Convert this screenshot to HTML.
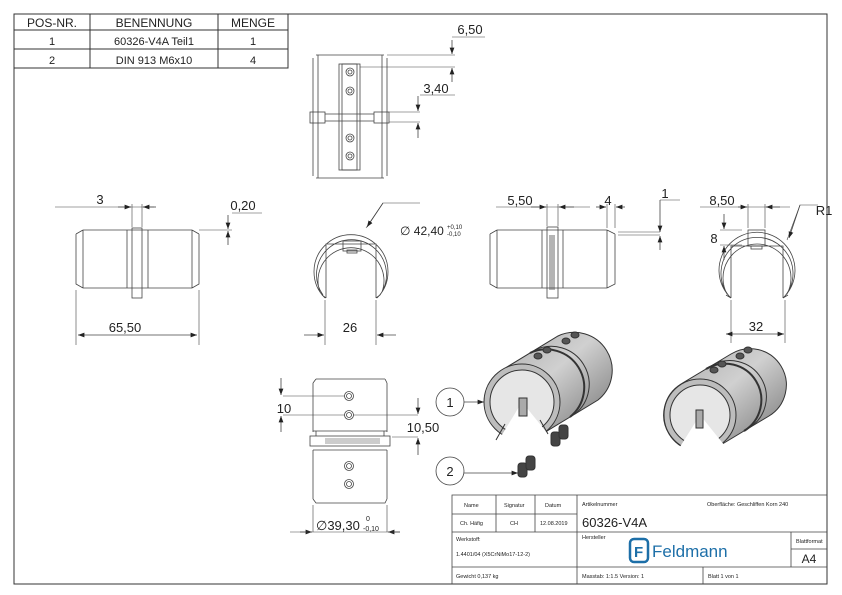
<!DOCTYPE html>
<html><head><meta charset="utf-8"><style>
html,body{margin:0;padding:0;background:#fff}
svg{display:block}
text{font-family:"Liberation Sans",sans-serif;fill:#222}
</style></head><body>
<svg width="842" height="595" viewBox="0 0 842 595" xmlns="http://www.w3.org/2000/svg">
<defs>
<marker id="a" markerWidth="8" markerHeight="6" refX="8" refY="3" orient="auto-start-reverse"><path d="M0,0 L8,3 L0,6z" fill="#222"/></marker>
<linearGradient id="g" x1="0" y1="0" x2="1" y2="1"><stop offset="0" stop-color="#a8a8a8"/><stop offset=".45" stop-color="#d0d0d0"/><stop offset="1" stop-color="#6e6e6e"/></linearGradient>
</defs>
<g fill="none" stroke="#333" stroke-width="1">
<path d="M288,14 H827 V584 H14 V68"/>
<rect x="14" y="14" width="274" height="54"/>
<path d="M14,30H288M14,49H288M90,14V68M218,14V68"/>
</g>
<g font-size="12" text-anchor="middle">
<text x="52" y="27">POS-NR.</text><text x="154" y="27">BENENNUNG</text><text x="253" y="27">MENGE</text>
<text x="52" y="45" font-size="11">1</text><text x="154" y="45" font-size="11">60326-V4A Teil1</text><text x="253" y="45" font-size="11">1</text>
<text x="52" y="64" font-size="11">2</text><text x="154" y="64" font-size="11">DIN 913 M6x10</text><text x="253" y="64" font-size="11">4</text>
</g>

<g fill="none" stroke="#444" stroke-width="0.8">
<path d="M316,55H384M316,178H384M313,58V176M387,58V176M318,55V178M382,55V178"/>
<rect x="339" y="64" width="21" height="106"/><rect x="342" y="64" width="15" height="106"/>
<circle cx="350" cy="72" r="4"/><circle cx="350" cy="72" r="2"/>
<circle cx="350" cy="91" r="4"/><circle cx="350" cy="91" r="2"/>
<circle cx="350" cy="138" r="4"/><circle cx="350" cy="138" r="2"/>
<circle cx="350" cy="156" r="4"/><circle cx="350" cy="156" r="2"/>
<rect x="310" y="112" width="15" height="11"/><rect x="374" y="112" width="15" height="11"/>
<path d="M325,114H374M325,121H374"/>
<path d="M387,55H455M452,37H485M360,67H455M389,112H420M389,122H420M420,95H455" stroke-width="0.6"/>
<line x1="452" y1="40" x2="452" y2="54" marker-end="url(#a)"/>
<line x1="452" y1="82" x2="452" y2="68" marker-end="url(#a)"/>
<line x1="418" y1="96" x2="418" y2="111" marker-end="url(#a)"/>
<line x1="418" y1="138" x2="418" y2="123" marker-end="url(#a)"/>
<path d="M83,230H192M83,288H192M76,234V284L83,288M76,234L83,230M199,234V284L192,288M199,234L192,230M83,230V288M192,230V288M127,230V288M148,230V288"/>
<rect x="132" y="228" width="10" height="70"/>
<path d="M76,290V345M199,290V345M132,227V204M142,227V204M199,230H232M55,207H154M232,213H262" stroke-width="0.6"/>
<line x1="78" y1="335" x2="197" y2="335" marker-start="url(#a)" marker-end="url(#a)"/>
<line x1="118" y1="207" x2="131" y2="207" marker-end="url(#a)"/>
<line x1="156" y1="207" x2="143" y2="207" marker-end="url(#a)"/>
<line x1="228" y1="215" x2="228" y2="229" marker-end="url(#a)"/>
<line x1="228" y1="245" x2="228" y2="231" marker-end="url(#a)"/>
<path d="M325,298 A37,37 0 1 1 377,298 M320,292 A33,33 0 1 1 382,292 M323,295 A35,35 0 1 1 380,295 M326,298V244H376V298 M326,298L322,295M376,298L380,295"/>
<rect x="343" y="241" width="18" height="10"/><rect x="347" y="250" width="10" height="3"/>
<path d="M325,300V345M376,300V345M366,228L383,203H420" stroke-width="0.6"/>
<line x1="304" y1="335" x2="324" y2="335" marker-end="url(#a)"/>
<line x1="396" y1="335" x2="377" y2="335" marker-end="url(#a)"/>
<line x1="383" y1="203" x2="367" y2="227" marker-end="url(#a)"/>
<path d="M497,230H607M497,288H607M490,234V284L497,288M490,234L497,230M615,234V284L607,288M615,234L607,230M497,230V288M542,230V288M563,230V288M607,230V288"/>
<rect x="547" y="227" width="11" height="71"/>
<path d="M550,235V290M552,235V290M554,235V290"/>
<path d="M547,226V204M558,226V204M607,228V204M615,228V204M496,207H590M618,232H660M618,235H660M660,200H680" stroke-width="0.6"/>
<line x1="531" y1="207" x2="546" y2="207" marker-end="url(#a)"/>
<line x1="574" y1="207" x2="559" y2="207" marker-end="url(#a)"/>
<line x1="596" y1="207" x2="606" y2="207" marker-end="url(#a)"/>
<line x1="625" y1="207" x2="616" y2="207" marker-end="url(#a)"/>
<line x1="660" y1="200" x2="660" y2="232" marker-end="url(#a)"/>
<line x1="660" y1="250" x2="660" y2="236" marker-end="url(#a)"/>
<path d="M731,298 A38,38 0 1 1 783,298 M727,294 A34,34 0 1 1 787,294 M729,296 A36,36 0 1 1 785,296 M731,298V246H783V298 M731,298L726,295M783,298L788,295"/>
<rect x="748" y="230" width="17" height="16"/><rect x="751" y="246" width="11" height="3"/>
<path d="M748,228V204M765,228V204M700,207H790M787,240L800,205H818M742,230H720M742,245H720M731,300V343M785,300V343" stroke-width="0.6"/>
<line x1="738" y1="207" x2="747" y2="207" marker-end="url(#a)"/>
<line x1="780" y1="207" x2="766" y2="207" marker-end="url(#a)"/>
<line x1="724" y1="214" x2="724" y2="229" marker-end="url(#a)"/>
<line x1="724" y1="260" x2="724" y2="246" marker-end="url(#a)"/>
<line x1="800" y1="205" x2="789" y2="238" marker-end="url(#a)"/>
<line x1="726" y1="334" x2="784" y2="334" marker-start="url(#a)" marker-end="url(#a)"/>
<path d="M316,379H385M313,383V432M387,383V432M313,383L316,379M387,383L385,379M313,431H387M313,450H387M313,450V499M387,450V499M313,499L316,503H385L387,499M316,431V436M384,431V436"/>
<rect x="310" y="436" width="80" height="10"/>
<path d="M325,439H380M325,441H380M325,443H380" stroke="#777"/>
<circle cx="349" cy="396" r="4.5"/><circle cx="349" cy="396" r="2.5"/>
<circle cx="349" cy="415" r="4.5"/><circle cx="349" cy="415" r="2.5"/>
<circle cx="349" cy="466" r="4.5"/><circle cx="349" cy="466" r="2.5"/>
<circle cx="349" cy="484" r="4.5"/><circle cx="349" cy="484" r="2.5"/>
<path d="M283,396H345M283,415H345M353,415H418M392,437H418M313,505V532M387,505V532" stroke-width="0.6"/>
<line x1="281" y1="378" x2="281" y2="395" marker-end="url(#a)"/>
<line x1="281" y1="432" x2="281" y2="416" marker-end="url(#a)"/>
<line x1="418" y1="398" x2="418" y2="414" marker-end="url(#a)"/>
<line x1="418" y1="455" x2="418" y2="438" marker-end="url(#a)"/>
<line x1="300" y1="532" x2="312" y2="532" marker-end="url(#a)"/>
<line x1="400" y1="532" x2="388" y2="532" marker-end="url(#a)"/>
<line x1="290" y1="532" x2="400" y2="532" stroke-width="0.6"/>
<circle cx="450" cy="402" r="14"/><circle cx="450" cy="471" r="14"/>
<line x1="464" y1="402" x2="484" y2="402" marker-end="url(#a)"/>
<line x1="464" y1="473" x2="518" y2="473" marker-end="url(#a)"/>
</g>
<!-- isometric 1 -->
<g stroke="#333" stroke-width="1">
<path d="M502,370 L558,336 A38,38 0 0 1 598,400 L542,434 A38,38 0 0 1 502,370 Z" fill="url(#g)"/>
<path d="M530,353 A38,38 0 0 1 570,417" fill="none" stroke-width="2"/>
<path d="M535,350 A38,38 0 0 1 575,414" fill="none" stroke-width="1"/>
<g fill="#555"><ellipse cx="538" cy="356" rx="4" ry="3"/><ellipse cx="547" cy="350" rx="4" ry="3"/><ellipse cx="566" cy="341" rx="4" ry="3"/><ellipse cx="575" cy="335" rx="4" ry="3"/></g>
<circle cx="522" cy="402" r="38" fill="#bdbdbd"/>
<circle cx="522" cy="402" r="32" fill="#e6e6e6"/>
<path d="M522,402 L548,434 A42,42 0 0 1 500,438 Z" fill="#fff" stroke="none"/>
<path d="M496,440 L505,424 M548,434 L540,420" fill="none"/>
<rect x="519" y="398" width="8" height="18" fill="#aaa"/>
<g fill="#444"><rect x="551" y="432" width="9" height="14" rx="3"/><rect x="559" y="425" width="9" height="14" rx="3"/><rect x="518" y="463" width="9" height="14" rx="3"/><rect x="526" y="456" width="9" height="14" rx="3"/></g>
</g>
<!-- isometric 2 -->
<g stroke="#333" stroke-width="1">
<path d="M681,384 L731,354 A36,36 0 0 1 769,416 L719,446 A36,36 0 0 1 681,384 Z" fill="url(#g)"/>
<path d="M706,369 A36,36 0 0 1 744,431" fill="none" stroke-width="2"/>
<path d="M711,366 A36,36 0 0 1 749,428" fill="none"/>
<g fill="#555"><ellipse cx="714" cy="370" rx="4" ry="3"/><ellipse cx="722" cy="364" rx="4" ry="3"/><ellipse cx="740" cy="356" rx="4" ry="3"/><ellipse cx="748" cy="350" rx="4" ry="3"/></g>
<circle cx="700" cy="415" r="36" fill="#bdbdbd"/>
<circle cx="700" cy="415" r="30" fill="#e6e6e6"/>
<path d="M700,415 L725,446 A40,40 0 0 1 678,450 Z" fill="#fff" stroke="none"/>
<rect x="696" y="410" width="7" height="18" fill="#aaa"/>
</g>
<g font-size="13" text-anchor="middle">
<text x="470" y="34">6,50</text><text x="436" y="93">3,40</text>
<text x="100" y="204">3</text><text x="243" y="210">0,20</text><text x="125" y="332">65,50</text>
<text x="350" y="332">26</text><text x="520" y="205">5,50</text><text x="608" y="205">4</text><text x="665" y="198">1</text>
<text x="722" y="205">8,50</text><text x="824" y="215">R1</text><text x="714" y="243">8</text><text x="756" y="331">32</text>
<text x="284" y="413">10</text><text x="423" y="432">10,50</text>
<text x="450" y="407">1</text><text x="450" y="476">2</text>
</g>
<text x="400" y="235" font-size="12">∅ 42,40</text><text x="447" y="229" font-size="6">+0,10</text><text x="447" y="236" font-size="6">-0,10</text>
<text x="316" y="530" font-size="13">∅39,30</text><text x="366" y="521" font-size="7">0</text><text x="363" y="531" font-size="7">-0,10</text>
<g fill="none" stroke="#444" stroke-width="0.8">
<path d="M452,584V495H827M452,514H577M452,532H827M452,567H827M496,495V532M535,495V532M577,495V584M703,567V584M791,532V567M791,549H827"/>
</g>
<g font-size="5.5">
<text x="464" y="507">Name</text><text x="504" y="507">Signatur</text><text x="545" y="507">Datum</text>
<text x="460" y="525">Ch. Häfig</text><text x="510" y="525">CH</text><text x="540" y="525">12.08.2019</text>
<text x="582" y="506">Artikelnummer</text><text x="707" y="506">Oberfläche:  Geschliffen Korn 240</text>
<text x="456" y="541">Werkstoff:</text><text x="456" y="556">1.4401/04 (X5CrNiMo17-12-2)</text>
<text x="582" y="539">Hersteller</text><text x="796" y="543">Blattformat</text>
<text x="456" y="578">Gewicht 0,137 kg</text><text x="582" y="578">Masstab: 1:1.5    Version: 1</text><text x="708" y="578">Blatt 1 von 1</text>
</g>
<text x="582" y="527" font-size="13">60326-V4A</text>
<text x="809" y="563" font-size="12" text-anchor="middle">A4</text>
<rect x="630" y="539" width="18" height="23" rx="4" fill="none" stroke="#1d6fa8" stroke-width="2.5"/>
<text x="634" y="557" font-size="15" style="fill:#1d6fa8;font-weight:bold">F</text>
<text x="652" y="557" font-size="17" style="fill:#1d6fa8">Feldmann</text>
</svg>
</body></html>
